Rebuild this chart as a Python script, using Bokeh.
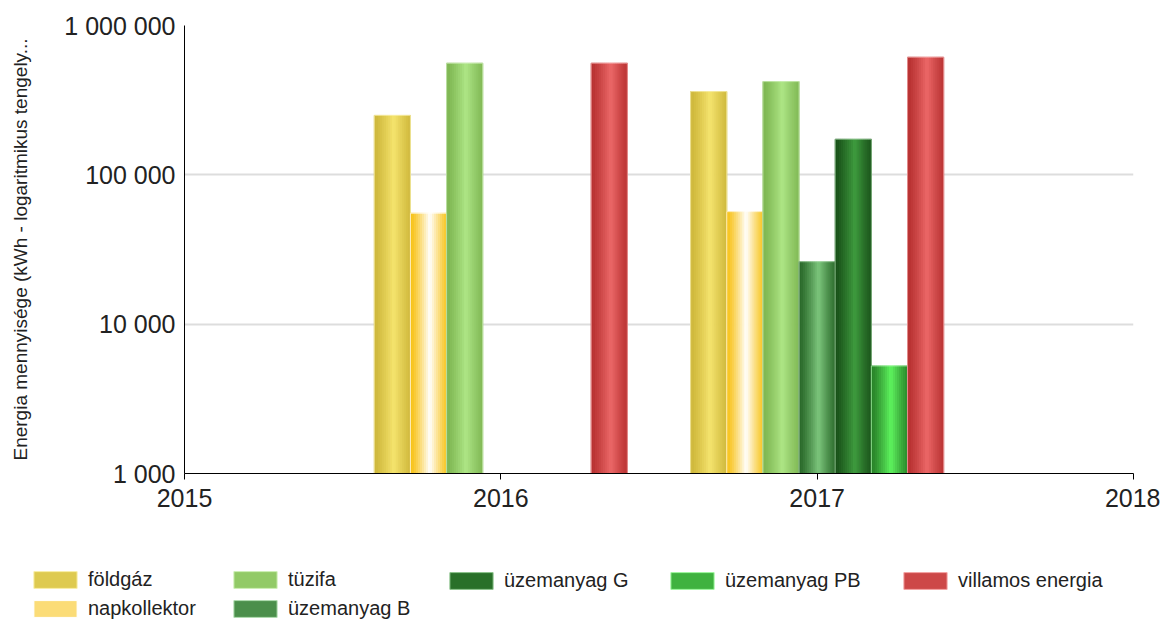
from bokeh.plotting import figure
from bokeh.layouts import column
from bokeh.models import Range1d, FixedTicker, Legend, LegendItem, ColumnDataSource
from bokeh.transform import dodge
from bokeh.embed import file_html
from bokeh.resources import INLINE

# ---- data ----
series_names = ["földgáz", "napkollektor", "tüzifa", "üzemanyag B",
                "üzemanyag G", "üzemanyag PB", "villamos energia"]
foldgaz_years = [2016, 2017]
foldgaz_values = [250000, 361000]
napkollektor_years = [2016, 2017]
napkollektor_values = [55300, 56700]
tuzifa_years = [2016, 2017]
tuzifa_values = [559000, 421000]
uzemanyag_b_years = [2017]
uzemanyag_b_values = [26200]
uzemanyag_g_years = [2017]
uzemanyag_g_values = [173000]
uzemanyag_pb_years = [2017]
uzemanyag_pb_values = [5250]
villamos_years = [2016, 2017]
villamos_values = [559000, 613000]

x_ticks = [2015, 2016, 2017, 2018]
y_ticks = [1000, 10000, 100000, 1000000]
y_tick_labels = ["1 000", "10 000", "100 000", "1 000 000"]
y_axis_title = "Energia mennyisége (kWh - logaritmikus tengely..."

series_years = [foldgaz_years, napkollektor_years, tuzifa_years, uzemanyag_b_years,
                uzemanyag_g_years, uzemanyag_pb_years, villamos_years]
series_values = [foldgaz_values, napkollektor_values, tuzifa_values, uzemanyag_b_values,
                 uzemanyag_g_values, uzemanyag_pb_values, villamos_values]

# ---- styles ----
edge_colors = ["#cfb83c", "#f8c41c", "#7fb753", "#2b6a2b", "#1a521a", "#2a862a", "#b83232"]
center_colors = ["#f5e46e", "#ffffff", "#aee686", "#7cc67c", "#3f9c3f", "#5ff45f", "#ec6868"]
FONT = "Liberation Sans"
W = 1160
MAIN_H = 530
LEG_H = 90


def hex2rgb(h):
    h = h.lstrip("#")
    return tuple(int(h[i:i + 2], 16) for i in (0, 2, 4))


def mix(c1, c2, f):
    a, b = hex2rgb(c1), hex2rgb(c2)
    return "#%02x%02x%02x" % tuple(int(round(a[i] + (b[i] - a[i]) * f)) for i in range(3))


p = figure(width=W, height=MAIN_H, output_backend="svg", toolbar_location=None,
           y_axis_type="log", x_range=Range1d(2015, 2018), y_range=Range1d(1000, 1000000),
           min_border_left=184, min_border_right=W - 1133, min_border_top=25,
           min_border_bottom=MAIN_H - 473, frame_align=False)
p.outline_line_color = None
p.background_fill_color = "white"

n = len(series_names)
group_w = 0.8
bar_w = group_w / n
S = 18

for i in range(n):
    src = ColumnDataSource(dict(year=series_years[i], value=series_values[i],
                                base=[y_ticks[0]] * len(series_years[i])))
    off0 = (i - (n - 1) / 2) * bar_w
    for k in range(S):
        t = (k + 0.5) / S
        f = max(0.0, 1 - abs(t - 0.55) / 0.5) ** 1.2
        col = mix(edge_colors[i], center_colors[i], f)
        off = off0 - bar_w / 2 + (k + 0.5) * bar_w / S
        p.vbar(x=dodge("year", off, range=p.x_range), top="value", bottom="base",
               width=bar_w / S, source=src, fill_color=col, line_color=col, line_width=1)
    p.vbar(x=dodge("year", off0, range=p.x_range), top="value", bottom="base", width=bar_w,
           source=src, fill_color=None, line_color=mix(center_colors[i], "#ffffff", 0.5),
           line_width=1, line_alpha=0.7)

# ---- axes ----
p.xaxis.ticker = FixedTicker(ticks=x_ticks)
p.xaxis.minor_tick_line_color = None
p.xaxis.major_tick_out = 6
p.xaxis.major_tick_in = 0
p.xaxis.major_label_standoff = 9
p.xaxis.major_label_text_font = FONT
p.xaxis.major_label_text_font_size = "25px"
p.xaxis.major_label_text_color = "#222222"
p.xaxis.axis_line_color = "black"

p.yaxis.ticker = FixedTicker(ticks=y_ticks)
p.yaxis.major_label_overrides = dict(zip(y_ticks, y_tick_labels))
p.yaxis.minor_tick_line_color = None
p.yaxis.major_tick_out = 0
p.yaxis.major_tick_in = 0
p.yaxis.major_label_standoff = 9
p.yaxis.major_label_text_font = FONT
p.yaxis.major_label_text_font_size = "25px"
p.yaxis.major_label_text_color = "#222222"
p.yaxis.axis_line_color = "black"
p.yaxis.axis_label = y_axis_title
p.yaxis.axis_label_text_font = FONT
p.yaxis.axis_label_text_font_size = "19px"
p.yaxis.axis_label_text_font_style = "normal"
p.yaxis.axis_label_text_color = "#222222"
p.yaxis.axis_label_standoff = 30

p.xgrid.grid_line_color = None
p.ygrid.ticker = FixedTicker(ticks=y_ticks[1:])
p.ygrid.grid_line_color = "#dddddd"
p.ygrid.grid_line_width = 2

# ---- legend figure (5 columns) ----
lf = figure(width=W, height=LEG_H, output_backend="svg", toolbar_location=None,
            x_range=Range1d(0, 1), y_range=Range1d(0, 1), x_axis_type=None, y_axis_type=None,
            min_border=0, frame_align=False)
lf.outline_line_color = None
lf.grid.visible = False

proxies = []
for i in range(n):
    # swatch renderer whose only bar lies far outside both ranges: only the legend swatch shows
    hidden = ColumnDataSource(dict(x=[-50], top=[-50], base=[-60]))
    proxies.append(lf.vbar(x="x", top="top", bottom="base", width=0.1, source=hidden,
                           fill_color=mix(edge_colors[i], center_colors[i], 0.4),
                           line_color=mix(center_colors[i], "#ffffff", 0.4), line_width=1))

columns = [[0, 1], [2, 3], [4], [5], [6]]
col_x = [33, 233, 449, 670, 903]
glyph_w, glyph_h = 54, 21        # drawn swatch is 80 % of this box
item_h = 22
gap = 6
top_y = 570 - MAIN_H             # legend top, relative to the legend figure's top
for cols, cx in zip(columns, col_x):
    h = len(cols) * item_h + (len(cols) - 1) * gap
    leg = Legend(items=[LegendItem(label=series_names[j], renderers=[proxies[j]]) for j in cols],
                 location=(cx - 5, LEG_H - top_y - h), orientation="vertical",
                 padding=0, margin=0, spacing=gap, glyph_width=glyph_w, glyph_height=glyph_h,
                 label_height=item_h, label_standoff=6,
                 label_text_font=FONT, label_text_font_size="20px", label_text_color="#222222",
                 border_line_color=None, background_fill_alpha=0)
    lf.add_layout(leg, "center")

layout = column(p, lf, spacing=0)
open("out.html", "w").write(file_html(layout, INLINE))
